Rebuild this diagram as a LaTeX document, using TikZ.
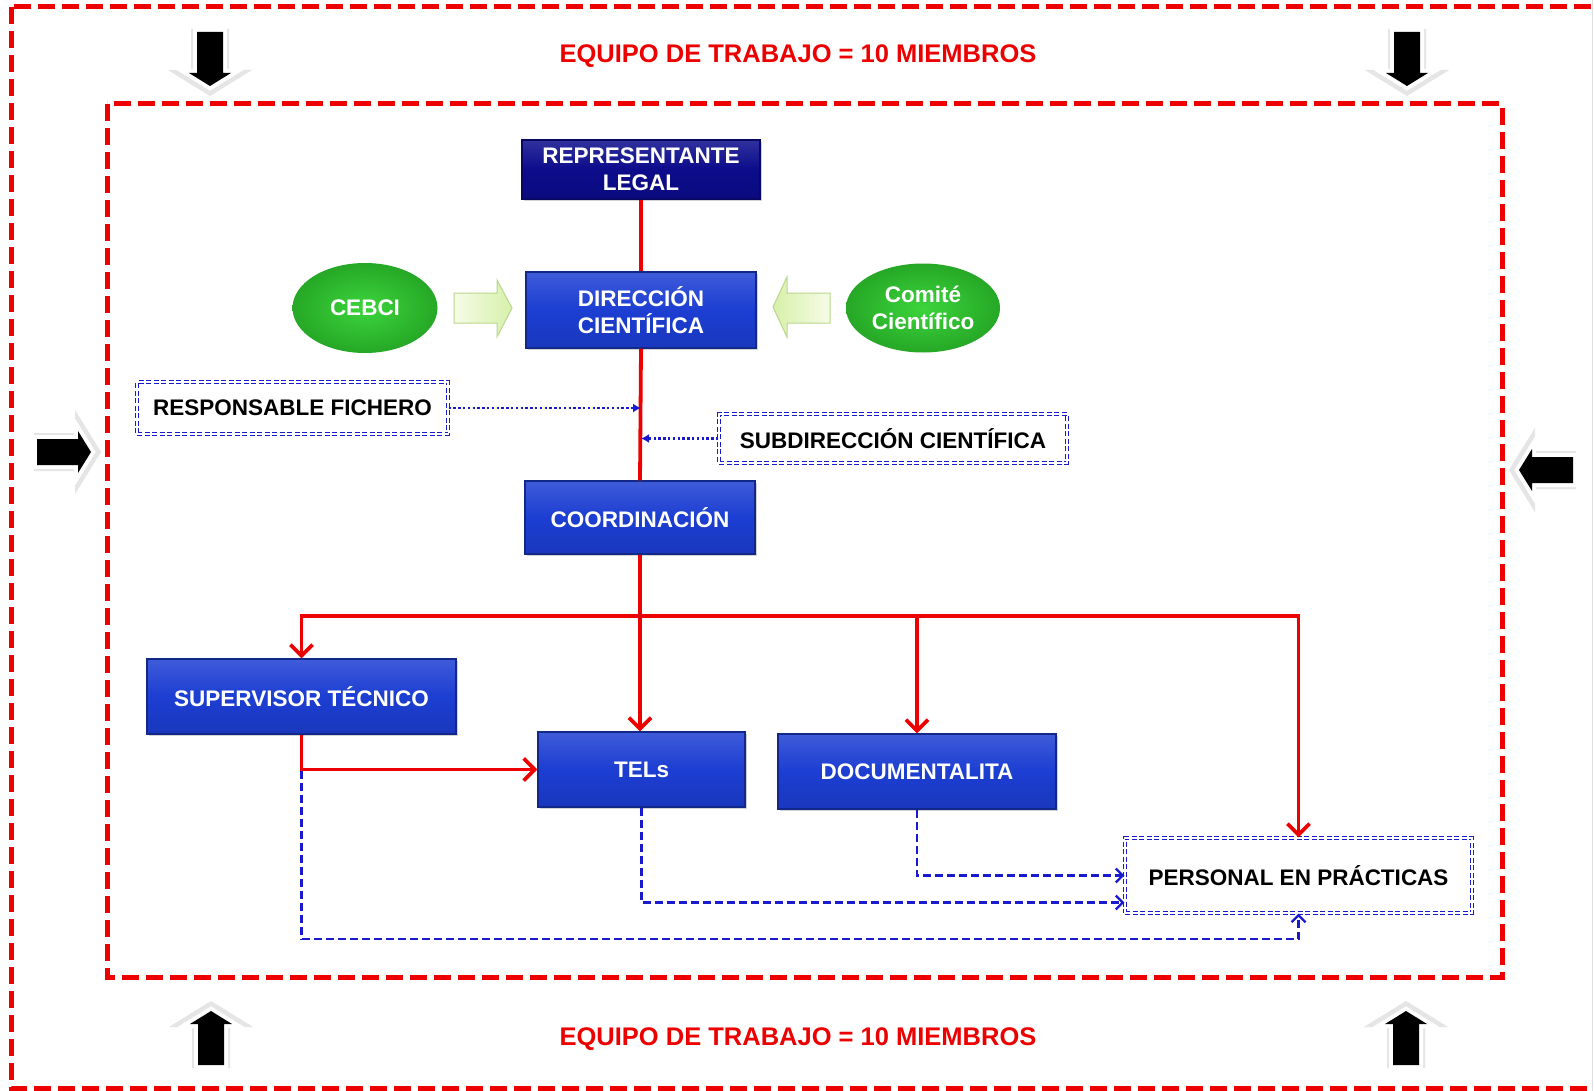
\documentclass[tikz,border=0pt]{standalone}
\usepackage{fontspec}
\setmainfont{Liberation Sans}
\usetikzlibrary{arrows.meta,shapes.geometric,shadows,calc}
\definecolor{myred}{RGB}{236,0,0}
\definecolor{navy}{RGB}{12,12,140}
\definecolor{boxblue}{RGB}{28,62,210}
\definecolor{mygreen}{RGB}{50,200,50}
\definecolor{dblue}{RGB}{25,25,205}
\tikzset{
  boxtext/.style={font=\bfseries\fontsize{22.5}{27}\selectfont, align=center, inner sep=0pt},
  bluebox/.style={boxtext, rectangle, top color=boxblue!85!white, bottom color=boxblue!90!black, middle color=boxblue,
     draw=boxblue!65!black, line width=1.2pt, text=white,
     drop shadow={opacity=0.35, shadow xshift=2pt, shadow yshift=-2pt}},
  navybox/.style={bluebox, top color=navy!85!white, bottom color=navy!90!black, middle color=navy, draw=navy!70!black},
  dbbox/.style={boxtext, rectangle, draw=dblue, line width=1.2pt, double=white, double distance=1.5pt,
     dash pattern=on 5pt off 2.5pt, fill=white, text=black},
  greenell/.style={boxtext, ellipse, inner color={rgb,255:red,60;green,212;blue,60}, outer color={rgb,255:red,38;green,168;blue,38}, text=white},
  redline/.style={draw=myred, line width=3.8pt},
  redarrow/.style={redline, -{Straight Barb[length=11pt,width=22pt]}},
  dotarrow/.style={draw=dblue, line width=2.4pt, dash pattern=on 2.4pt off 2.4pt, -{Latex[length=8pt,width=9pt]}},
  dasharrow/.style={draw=dblue, line width=2.3pt, dash pattern=on 8pt off 4pt, -{Straight Barb[length=7pt,width=14pt]}},
  dashline/.style={draw=dblue, line width=2.3pt, dash pattern=on 8pt off 4pt},
  reddash/.style={draw=myred, line width=5pt, dash pattern=on 17pt off 7pt},
  blkarrow/.pic={
    \path[fill=black!10, draw=black!10, line width=12pt, line join=miter, shift={(0,3)}]
       (-13,-27) -- (13,-27) -- (13,14) -- (21,14) -- (0,27) -- (-21,14) -- (-13,14) -- cycle;
    \path[fill=white, draw=white, line width=8pt, line join=miter]
       (-13,-27) -- (13,-27) -- (13,14) -- (21,14) -- (0,27) -- (-21,14) -- (-13,14) -- cycle;
    \fill[black] (-13,-27) -- (13,-27) -- (13,14) -- (21,14) -- (0,27) -- (-21,14) -- (-13,14) -- cycle;}
}
\begin{document}
\begin{tikzpicture}[x=1pt,y=-1pt]
\useasboundingbox (0,0) rectangle (1594,1091);
\clip (0,0) rectangle (1594,1091);
\fill[white] (0,0) rectangle (1594,1091);
\draw[gray!25, line width=1pt] (1592,0) -- (1592,1091);
% borders
\draw[reddash] (11,7) rectangle (1640,1088);
\draw[reddash] (107,104) rectangle (1502,977);
% titles
\node[font=\bfseries\fontsize{25.5}{30}\selectfont, text=myred] (t1) at (798,56) {EQUIPO DE TRABAJO = 10 MIEMBROS};
\node[font=\bfseries\fontsize{25.5}{30}\selectfont, text=myred] (t2) at (798,1039) {EQUIPO DE TRABAJO = 10 MIEMBROS};
% black arrows
\pic at (210,59) {blkarrow};
\pic at (1407,59) {blkarrow};
\pic[rotate=180] at (211,1038) {blkarrow};
\pic[rotate=180] at (1406,1038) {blkarrow};
\pic[rotate=90] at (64,452) {blkarrow};
\pic[rotate=-90] at (1546,470) {blkarrow};
% nodes
\node[navybox, minimum width=238pt, minimum height=59pt] (rep) at (641,169.5) {REPRESENTANTE\\LEGAL};
\node[bluebox, minimum width=230pt, minimum height=76pt] (dir) at (641,310) {DIRECCIÓN\\CIENTÍFICA};
\node[bluebox, minimum width=230pt, minimum height=73pt] (coord) at (640,517.5) {COORDINACIÓN};
\node[bluebox, minimum width=309pt, minimum height=75pt] (sup) at (301.5,696.5) {SUPERVISOR TÉCNICO};
\node[bluebox, minimum width=207pt, minimum height=75pt] (tels) at (641.5,769.5) {TELs};
\node[bluebox, minimum width=278pt, minimum height=75pt] (doc) at (917,771.5) {DOCUMENTALITA};
\node[greenell, minimum width=145pt, minimum height=90pt] (cebci) at (365,308) {CEBCI};
\node[greenell, minimum width=154pt, minimum height=89pt] (comite) at (923,308) {Comité\\Científico};
\node[dbbox, minimum width=311pt, minimum height=52pt] (resp) at (292.5,408) {RESPONSABLE FICHERO};
\node[dbbox, minimum width=348pt, minimum height=49pt] (sub) at (893,438.5) {SUBDIRECCIÓN CIENTÍFICA};
\node[dbbox, minimum width=347pt, minimum height=75pt] (pers) at (1298.5,875.5) {PERSONAL EN PRÁCTICAS};
% light green arrows
\path[draw={rgb,255:red,185;green,215;blue,140}, line width=1pt, left color={rgb,255:red,246;green,252;blue,230}, right color={rgb,255:red,214;green,240;blue,170}]
  (454,293) -- (497,293) -- (497,280) -- (512,308) -- (497,337) -- (497,323) -- (454,323) -- cycle;
\path[draw={rgb,255:red,185;green,215;blue,140}, line width=1pt, right color={rgb,255:red,246;green,252;blue,230}, left color={rgb,255:red,214;green,240;blue,170}]
  (830,293) -- (787,293) -- (787,277) -- (773,307) -- (787,337) -- (787,323) -- (830,323) -- cycle;
% red trunk
\draw[redline] (rep.south) -- (dir.north);
\draw[redline] (dir.south) -- (coord.north);
\coordinate (br) at (640,616);
\coordinate (lowy) at (0,939);
% blue dashed connectors (under red)
\draw[dashline] (sup.south) -- (sup.south |- lowy);
\draw[dasharrow] (sup.south |- lowy) -| (pers.south);
\draw[dasharrow] (tels.south) |- ([yshift=-27pt]pers.west);
\draw[dasharrow] (doc.south) |- (pers.west);
% red branches
\draw[redline] (coord.south) -- (br);
\draw[redarrow] (br) -| (sup.north);
\draw[redarrow] (br) -- (br |- tels.north);
\draw[redarrow] (br) -| (doc.north);
\draw[redarrow] (br) -| (pers.north);
\draw[redarrow] (sup.south) |- (tels.west);
% dotted arrows
\draw[dotarrow] (resp.east) -- (resp.east -| dir.south);
\draw[dotarrow] (sub.west) -- (sub.west -| dir.south);
\end{tikzpicture}
\end{document}
